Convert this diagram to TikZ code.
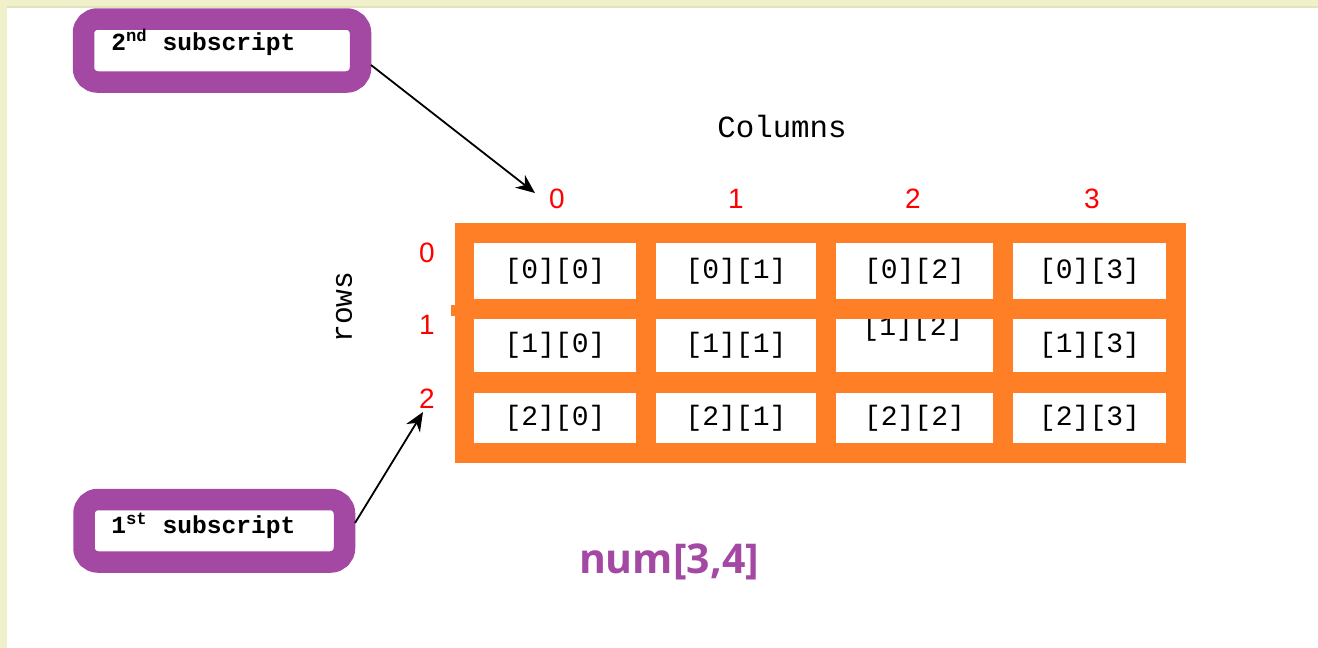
\documentclass[tikz,border=0pt]{standalone}
\usepackage{fontspec}
\setmainfont{Liberation Sans}
\newfontfamily\monofont{Liberation Mono}
\newfontfamily\titlefont{Open Sans}
\usetikzlibrary{arrows.meta}
\definecolor{paintorange}{RGB}{255,127,39}
\definecolor{paintpurple}{RGB}{163,73,164}
\definecolor{pagetint}{RGB}{240,240,202}
\definecolor{pagetintedge}{RGB}{226,226,188}

\begin{document}
\begin{tikzpicture}[x=0.5pt,y=-0.5pt,
  cellbox/.style={fill=white, inner sep=0pt, outer sep=0pt},
  celltext/.style={inner sep=0pt, font=\monofont\fontsize{14}{14}\selectfont},
  indexlabel/.style={inner sep=0pt, anchor=base, text=red, font=\fontsize{14}{14}\selectfont},
  monolabel/.style={inner sep=0pt, font=\monofont\fontsize{15.4}{16}\selectfont},
  subbox/.style={draw=paintpurple, fill=white, line width=10.75pt, rounded corners=7pt, inner sep=0pt},
  subtext/.style={inner sep=0pt, anchor=base west, font=\monofont\bfseries\fontsize{12.3}{13}\selectfont},
  pointer/.style={-{Stealth[length=9.5pt,width=8pt]}, line width=0.9pt, black}
]
% page background with tinted margins
\fill[pagetint] (0,0) rectangle (1318,648);
\fill[pagetintedge] (7,6) rectangle (1318,8);
\fill[white] (7,8) rectangle (1318,648);
\useasboundingbox (0,0) rectangle (1318,648);

% array frame
\fill[paintorange] (455,223) rectangle (1186,463);
\fill[paintorange] (451,305) rectangle (456,316);

% cells of the 3x4 array
\foreach \c/\cx/\cw in {0/555/162, 1/736/160, 2/914.5/157, 3/1089.5/153}
  \foreach \r/\ry/\rh in {0/271/56, 1/345.5/53, 2/418/50}
  {
    \node[cellbox, minimum width=\cw*0.5pt, minimum height=\rh*0.5pt] (cell\r\c) at (\cx,\ry) {};
    \ifnum\r\c=12 \else
      \node[celltext] (txt\r\c) at (cell\r\c) {[\r][\c]};
    \fi
  }
% element [1][2] sits high in its cell and is cut off at the top
\begin{scope}
  \clip (cell12.south west) rectangle (cell12.north east);
  \node[celltext] (txt12) at (913,328) {[1][2]};
\end{scope}

% axis titles
\node[monolabel, anchor=base] (columns) at (782,137) {Columns};
\node[monolabel, rotate=90, font=\monofont\fontsize{14.8}{15}\selectfont] (rows) at (344,307) {rows};

% column indices
\node[indexlabel] (c0) at (557,208) {0};
\node[indexlabel] (c1) at (736,208) {1};
\node[indexlabel] (c2) at (913,208) {2};
\node[indexlabel] (c3) at (1092,208) {3};
% row indices
\node[indexlabel] (r0) at (427,262) {0};
\node[indexlabel] (r1) at (427,334) {1};
\node[indexlabel] (r2) at (427,408) {2};

% subscript callouts
\node[subbox, minimum width=277*0.5pt, minimum height=63*0.5pt] (sub2) at (222,50.5) {};
\node[subtext] (sub2text) at (111,50) {2\textsuperscript{nd} subscript};
\node[subbox, minimum width=260.5*0.5pt, minimum height=62.5*0.5pt] (sub1) at (214.25,530.75) {};
\node[subtext] (sub1text) at (111,533) {1\textsuperscript{st} subscript};

% pointers from callouts to the indices
\coordinate (sub2out) at (371,65);
\coordinate (coltip) at (535,193);
\coordinate (sub1out) at (355,523);
\coordinate (rowtip) at (423,412);
\draw[pointer] (sub2out) -- (coltip);
\draw[pointer] (sub1out) -- (rowtip);

% declaration caption
\node[inner sep=0pt, anchor=base, text=paintpurple, font=\titlefont\bfseries\fontsize{20.5}{21}\selectfont] (decl) at (669,573) {num[3,4]};
\end{tikzpicture}
\end{document}
